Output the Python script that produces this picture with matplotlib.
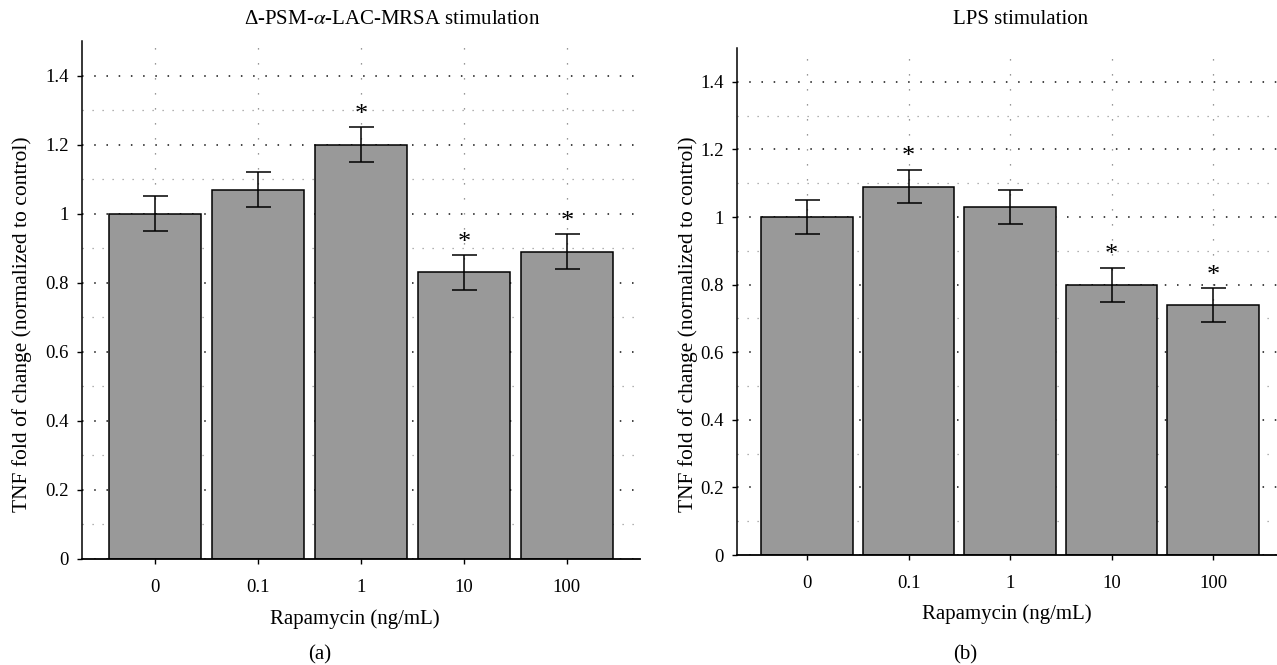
import numpy as np
import matplotlib
matplotlib.use("Agg")
import matplotlib.pyplot as plt
from matplotlib.ticker import FixedLocator

plt.rcParams['font.family'] = ['Liberation Serif', 'DejaVu Serif']
plt.rcParams['mathtext.fontset'] = 'stix'

# data
doses = ['0', '0.1', '1', '10', '100']
mrsa_mean = [1.00, 1.07, 1.20, 0.83, 0.89]
mrsa_err = [0.05, 0.05, 0.05, 0.05, 0.05]
mrsa_sig = [False, False, True, True, True]
lps_mean = [1.00, 1.09, 1.03, 0.80, 0.74]
lps_err = [0.05, 0.05, 0.05, 0.05, 0.05]
lps_sig = [False, True, False, True, True]
yticks = [0, 0.2, 0.4, 0.6, 0.8, 1.0, 1.2, 1.4]
ytick_labels = ['0', '0.2', '0.4', '0.6', '0.8', '1', '1.2', '1.4']
yminor = [0.1, 0.3, 0.5, 0.7, 0.9, 1.1, 1.3]

fig = plt.figure(figsize=(12.77, 6.65), dpi=100)


def panel(rect, xlim, means, errs, sig, ylab_xy, xlab_x):
    ax = fig.add_axes(rect)
    x = np.arange(len(doses))
    ax.set_axisbelow(True)
    ax.bar(x, means, width=0.9, color='#999999', edgecolor='black', linewidth=1.1,
           yerr=errs, capsize=9, error_kw=dict(ecolor='black', elinewidth=1.1, capthick=1.1))
    # significance stars
    for xi, m, e, s in zip(x, means, errs, sig):
        if s:
            ax.text(xi, m + e + 0.004, '*', ha='center', va='bottom', fontsize=19)
    ax.set_xlim(*xlim)
    ax.set_ylim(0, 1.5)
    ax.set_xticks(x)
    ax.set_xticklabels(doses)
    ax.set_yticks(yticks)
    ax.set_yticklabels(ytick_labels)
    ax.yaxis.set_minor_locator(FixedLocator(yminor))
    ax.tick_params(axis='both', which='major', labelsize=13.5, length=3.5, width=1, direction='out')
    ax.tick_params(axis='y', which='minor', length=0)
    ax.tick_params(axis='y', pad=6)
    ax.tick_params(axis='x', pad=11)
    ax.grid(True, axis='y', which='major', linestyle=(0, (1, 7)), color='#111111', linewidth=1.1)
    ax.grid(True, axis='y', which='minor', linestyle=(0, (1, 7)), color='#999999', linewidth=0.9)
    ax.grid(True, axis='x', which='major', linestyle=(0, (1, 11)), color='#777777', linewidth=0.9)
    for sp in ['top', 'right']:
        ax.spines[sp].set_visible(False)
    ax.spines['left'].set_linewidth(1.1)
    ax.spines['bottom'].set_linewidth(1.3)
    ax.set_xlabel('Rapamycin (ng/mL)', fontsize=15)
    ax.xaxis.set_label_coords(xlab_x, -0.116)
    ax.xaxis.label.set_va('center')
    ax.set_ylabel('TNF fold of change (normalized to control)', fontsize=15.5)
    ax.yaxis.set_label_coords(*ylab_xy)
    ax.yaxis.label.set_va('center')
    return ax


ax1 = panel([0.0642, 0.1594, 0.437, 0.7789], (-0.71, 4.71), mrsa_mean, mrsa_err, mrsa_sig,
            (-0.1075, 0.454), 0.489)
ax2 = panel([0.5771, 0.1654, 0.4229, 0.7624], (-0.69, 4.63), lps_mean, lps_err, lps_sig,
            (-0.091, 0.456), 0.5)

fig.text(392 / 1277, 1 - 19 / 665, 'Δ-PSM-$\\alpha$-LAC-MRSA stimulation', ha='center', va='center', fontsize=15)
fig.text(1021 / 1277, 1 - 19 / 665, 'LPS stimulation', ha='center', va='center', fontsize=15)
fig.text(320 / 1277, 1 - 655 / 665, '(a)', ha='center', va='center', fontsize=15)
fig.text(965 / 1277, 1 - 655 / 665, '(b)', ha='center', va='center', fontsize=15)

fig.savefig('out.png', dpi=100)
